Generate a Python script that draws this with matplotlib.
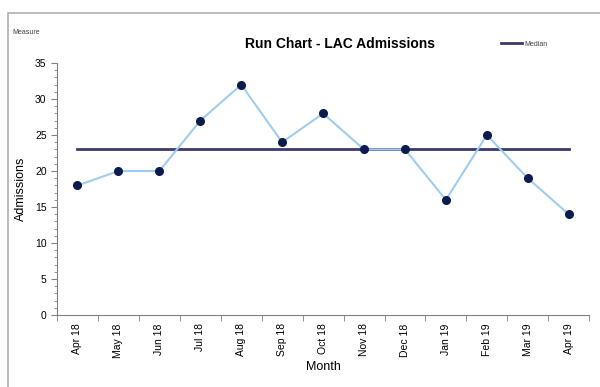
import matplotlib
matplotlib.use("Agg")
import matplotlib.pyplot as plt
from matplotlib.ticker import MultipleLocator, FixedLocator
from matplotlib.patches import Rectangle

plt.rcParams['font.family'] = ['Liberation Sans', 'DejaVu Sans']

months = ["Apr 18", "May 18", "Jun 18", "Jul 18", "Aug 18", "Sep 18", "Oct 18",
          "Nov 18", "Dec 18", "Jan 19", "Feb 19", "Mar 19", "Apr 19"]
admissions = [18, 20, 20, 27, 32, 24, 28, 23, 23, 16, 25, 19, 14]
median_value = 23

fig = plt.figure(figsize=(6, 3.87), dpi=100)
fig.patch.set_facecolor("white")
fig.add_artist(Rectangle((0.013, -0.01), 1.0, 0.976, transform=fig.transFigure,
                         fill=False, edgecolor="#b0b0b0", linewidth=1.2))

ax = fig.add_axes([0.095, 0.186, 0.887, 0.651])
x = list(range(len(months)))
ax.plot(x, [median_value] * len(x), color="#3a3a6e", linewidth=2, label="Median", zorder=2)
ax.plot(x, admissions, color="#9fcdf2", linewidth=1.5, zorder=3)
ax.plot(x, admissions, linestyle="none", marker="o", markersize=5.5,
        color="#0d1a4d", zorder=4)

ax.set_xlim(-0.5, len(x) - 0.5)
ax.set_ylim(0, 35)
ax.yaxis.set_major_locator(MultipleLocator(5))
ax.yaxis.set_minor_locator(MultipleLocator(1))
ax.set_xticks(x)
ax.set_xticklabels(months, rotation=90, fontsize=7.5)
ax.xaxis.set_minor_locator(FixedLocator([i - 0.5 for i in range(len(x) + 1)]))
ax.tick_params(axis="x", which="major", length=0, pad=6)
ax.tick_params(axis="x", which="minor", length=4, color="#808080")
ax.tick_params(axis="y", which="major", length=4, labelsize=7.5, color="#808080")
ax.tick_params(axis="y", which="minor", length=2, color="#808080")
for s in ["top", "right"]:
    ax.spines[s].set_visible(False)
for s in ["left", "bottom"]:
    ax.spines[s].set_color("#808080")

ax.set_xlabel("Month", fontsize=9, labelpad=2)
ax.set_ylabel("Admissions", fontsize=9, labelpad=6)

fig.text(0.566, 0.886, "Run Chart - LAC Admissions", ha="center", va="center",
         fontsize=10, fontweight="bold")
fig.text(0.02, 0.915, "Measure", ha="left", va="center", fontsize=5, color="#404040")
ax.legend(loc="center left", bbox_to_anchor=(0.835, 0.886),
          bbox_transform=fig.transFigure, frameon=False, borderpad=0,
          borderaxespad=0, fontsize=5, handlelength=3, handletextpad=0.3,
          labelcolor="#404040")

fig.savefig("out.png", dpi=100)
